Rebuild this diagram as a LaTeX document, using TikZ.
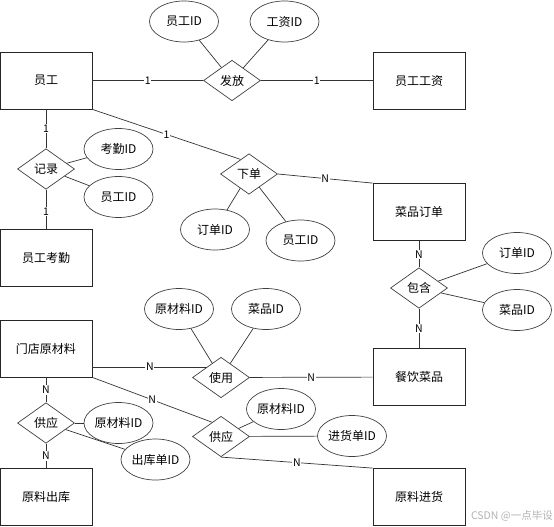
\documentclass[tikz,border=0pt]{standalone}
\usepackage{fontspec}
\setmainfont{Noto Sans CJK SC}
\usetikzlibrary{shapes.geometric}
\begin{document}
\begin{tikzpicture}[x=1pt,y=-1pt,
 ent/.style={draw=black!85,line width=0.8pt,minimum width=92pt,minimum height=57pt,inner sep=0pt,font=\fontsize{12}{14}\selectfont},
 rel/.style={diamond,draw=black!75,line width=0.7pt,minimum width=57pt,minimum height=40.5pt,inner sep=0pt,font=\fontsize{12}{14}\selectfont},
 attr/.style={ellipse,draw=black!75,line width=0.7pt,minimum width=69pt,minimum height=41pt,inner sep=0pt,font=\fontsize{12}{14}\selectfont},
 conn/.style={draw=black!80,line width=0.7pt},
 card/.style={fill=white,inner sep=0.8pt,font=\fontsize{10.5}{10.5}\selectfont}]
\useasboundingbox (0,0) rectangle (554,527);
% entities
\node[ent] (yg) at (46,80.5) {员工};
\node[ent] (gz) at (419,80.5) {员工工资};
\node[ent] (cpdd) at (419,212) {菜品订单};
\node[ent] (kq) at (46,258) {员工考勤};
\node[ent] (mdycl) at (46,348.5) {门店原材料};
\node[ent] (cycp) at (419,377) {餐饮菜品};
\node[ent] (ylck) at (46,497) {原料出库};
\node[ent] (yljh) at (419,497) {原料进货};
% relations
\node[rel] (ff) at (232,80.5) {发放};
\node[rel] (jl) at (46,169) {记录};
\node[rel] (xd) at (249,174) {下单};
\node[rel] (bh) at (419,288) {包含};
\node[rel] (sy) at (221,377.5) {使用};
\node[rel] (gy1) at (46,423) {供应};
\node[rel] (gy2) at (221,436.5) {供应};
% attributes
\node[attr] (a1) at (184,21.5) {员工ID};
\node[attr] (a2) at (284.5,21.5) {工资ID};
\node[attr] (a3) at (118.5,149) {考勤ID};
\node[attr] (a4) at (118.5,197) {员工ID};
\node[attr] (a5) at (215,229.5) {订单ID};
\node[attr] (a6) at (300.5,240.5) {员工ID};
\node[attr] (a7) at (517,253) {订单ID};
\node[attr] (a8) at (517,310) {菜品ID};
\node[attr] (a9) at (179,309) {原材料ID};
\node[attr] (a10) at (266,309) {菜品ID};
\node[attr] (a11) at (118.5,423) {原材料ID};
\node[attr] (a12) at (155.5,459.5) {出库单ID};
\node[attr] (a13) at (281,409) {原材料ID};
\node[attr] (a14) at (352,436) {进货单ID};
% relationship connectors
\draw[conn] (yg) -- node[card]{1} (ff);
\draw[conn] (ff) -- node[card]{1} (gz);
\draw[conn] (yg) -- node[card]{1} (jl);
\draw[conn] (jl) -- node[card,pos=0.55]{1} (kq);
\draw[conn] (yg.south east) -- node[card]{1} (xd.120);
\draw[conn] (xd.east) -- node[card]{N} (cpdd.north west);
\draw[conn] (cpdd) -- node[card]{N} (bh);
\draw[conn] (bh) -- node[card]{N} (cycp);
\draw[conn] ([yshift=-18.5pt]mdycl.east) -- node[card,pos=0.5]{N} ([xshift=-13.6pt,yshift=10.5pt]sy.center);
\draw[conn] (sy) -- node[card]{N} (cycp);
\draw[conn] (mdycl) -- node[card]{N} (gy1);
\draw[conn] (gy1) -- node[card]{N} (ylck);
\draw[conn] (mdycl.south east) -- node[card]{N} (gy2.122);
\draw[conn] (gy2.south) -- node[card]{N} (yljh.north west);
% attribute connectors
\draw[conn] (a1) -- (ff);
\draw[conn] (a2) -- (ff);
\draw[conn] (a3) -- (jl);
\draw[conn] (a4) -- (jl);
\draw[conn] (a5) -- (xd);
\draw[conn] (a6) -- (xd);
\draw[conn] (a7) -- (bh);
\draw[conn] (a8) -- (bh);
\draw[conn] (a9) -- (sy);
\draw[conn] (a10) -- (sy);
\draw[conn] (a11) -- (gy1);
\draw[conn] (a12) -- (gy1);
\draw[conn] (a13) -- (gy2);
\draw[conn] (a14) -- (gy2);
% watermark
\node[font=\fontsize{10.5}{11}\selectfont,text=black!30,anchor=east,inner sep=0pt] (wm) at (553,516) {CSDN @一点毕设};
\end{tikzpicture}
\end{document}
